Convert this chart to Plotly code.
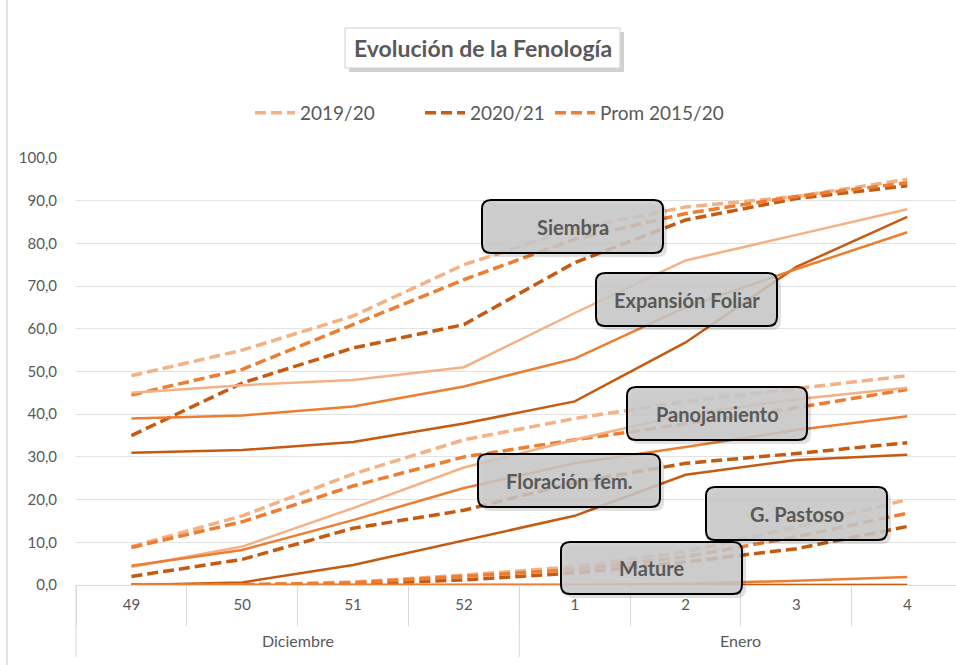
import plotly.graph_objects as go

# ---------------- data ----------------
weeks = ["49", "50", "51", "52", "1", "2", "3", "4"]
months = ["Diciembre", "Enero"]
weeks_per_month = [4, 4]

series_names = ["2019/20", "2020/21", "Prom 2015/20"]

siembra_1920 = [49.0, 55.0, 63.0, 75.0, 83.5, 88.5, 91.0, 95.0]
siembra_2021 = [35.0, 47.3, 55.5, 61.0, 75.5, 85.5, 90.5, 93.5]
siembra_prom = [44.5, 50.5, 61.0, 71.5, 81.0, 87.0, 91.0, 94.2]

expansion_1920 = [45.0, 46.8, 48.0, 51.0, 63.7, 76.0, 82.0, 88.0]
expansion_2021 = [31.0, 31.6, 33.5, 37.8, 43.0, 56.8, 74.5, 86.2]
expansion_prom = [39.0, 39.7, 41.8, 46.5, 53.0, 65.0, 74.0, 82.6]

panoj_1920 = [9.0, 16.2, 26.0, 34.0, 39.0, 43.0, 46.0, 49.0]
panoj_2021 = [2.0, 6.0, 13.3, 17.5, 24.0, 28.5, 30.8, 33.3]
panoj_prom = [8.8, 14.8, 23.2, 30.0, 34.0, 37.8, 41.5, 45.8]

floracion_1920 = [4.2, 9.0, 18.0, 27.5, 34.0, 40.0, 43.5, 46.2]
floracion_2021 = [0.0, 0.6, 4.7, 10.5, 16.2, 25.8, 29.3, 30.5]
floracion_prom = [4.5, 8.2, 15.2, 22.7, 28.5, 32.3, 36.3, 39.5]

pastoso_1920 = [0.0, 0.0, 0.7, 2.3, 4.3, 7.8, 13.6, 20.0]
pastoso_2021 = [0.0, 0.0, 0.2, 1.2, 2.8, 5.4, 8.5, 13.7]
pastoso_prom = [0.0, 0.0, 0.5, 2.0, 3.6, 6.6, 11.3, 16.8]

mature_1920 = [0.0, 0.0, 0.0, 0.0, 0.0, 0.0, 0.0, 0.0]
mature_2021 = [0.0, 0.0, 0.0, 0.0, 0.0, 0.0, 0.0, 0.0]
mature_prom = [0.0, 0.0, 0.0, 0.0, 0.0, 0.3, 1.0, 1.9]

stage_labels = ["Siembra", "Expansión Foliar", "Panojamiento",
                "Floración fem.", "G. Pastoso", "Mature"]
y_ticks = [0, 10, 20, 30, 40, 50, 60, 70, 80, 90, 100]

# ---------------- styles ----------------
C_LIGHT = "#F4B183"
C_DARK = "#C55A11"
C_MED = "#ED7D31"
TXT = "#595959"
FONT = "Lato, 'Open Sans', sans-serif"

W, H = 956, 665
ML, MR, MT, MB = 76, 0, 158, 80
PW, PH = W - ML - MR, H - MT - MB
XR = [-0.5, 7.44]

def px(xp):
    return (xp - ML) / PW

def py(yp):
    return (H - MB - yp) / PH

def cat_to_paper(c):
    return (c - XR[0]) / (XR[1] - XR[0])

stages = [
    (siembra_1920, siembra_2021, siembra_prom, True),
    (expansion_1920, expansion_2021, expansion_prom, False),
    (panoj_1920, panoj_2021, panoj_prom, True),
    (floracion_1920, floracion_2021, floracion_prom, False),
    (pastoso_1920, pastoso_2021, pastoso_prom, True),
    (mature_1920, mature_2021, mature_prom, False),
]

legend_ids = ["legend", "legend2", "legend3"]
legend_x_px = [250, 420, 550]

fig = go.Figure()
for si, (a, b, c, dashed) in enumerate(stages):
    for k, (name, vals, col) in enumerate(zip(series_names, (a, b, c),
                                               (C_LIGHT, C_DARK, C_MED))):
        fig.add_trace(go.Scatter(
            x=weeks, y=vals, mode="lines", name=name,
            showlegend=(si == 0), legend=legend_ids[k],
            line=dict(color=col, width=3.5 if dashed else 2.5,
                      dash="11px,5px" if dashed else "solid"),
            hoverinfo="y+name",
        ))

shapes = []
annotations = []

# ---------------- month labels + dividers ----------------
start = 0
bounds = [0]
for m, n in zip(months, weeks_per_month):
    center = start + (n - 1) / 2
    annotations.append(dict(xref="paper", yref="paper",
                            x=cat_to_paper(center), y=py(640),
                            text=m, showarrow=False,
                            xanchor="center", yanchor="middle",
                            font=dict(family=FONT, size=16, color=TXT)))
    start += n
    bounds.append(start)
for bnd in bounds:
    xb = cat_to_paper(bnd - 0.5)
    shapes.append(dict(type="line", xref="paper", yref="paper",
                       x0=xb, x1=xb, y0=py(585), y1=py(657),
                       line=dict(color="#D9D9D9", width=1)))

# ---------------- label boxes ----------------
def rounded_rect(x0, y0, x1, y1, r):
    X0, X1 = px(x0), px(x1)
    Y0, Y1 = py(y0), py(y1)
    rx, ry = r / PW, r / PH
    return (f"M {X0+rx},{Y0} L {X1-rx},{Y0} Q {X1},{Y0} {X1},{Y0-ry} "
            f"L {X1},{Y1+ry} Q {X1},{Y1} {X1-rx},{Y1} L {X0+rx},{Y1} "
            f"Q {X0},{Y1} {X0},{Y1+ry} L {X0},{Y0-ry} Q {X0},{Y0} {X0+rx},{Y0} Z")

boxes = [
    (482, 200, 663, 253),
    (596, 273, 777, 326),
    (627, 387, 807, 440),
    (478, 454, 660, 507),
    (706, 487, 887, 540),
    (561, 542, 742, 594),
]
for label, (x0, y0, x1, y1) in zip(stage_labels, boxes):
    shapes.append(dict(type="path", xref="paper", yref="paper", layer="above",
                       path=rounded_rect(x0 + 4, y0 + 4, x1 + 4, y1 + 4, 9),
                       fillcolor="rgba(0,0,0,0.12)", line=dict(width=0)))
    shapes.append(dict(type="path", xref="paper", yref="paper", layer="above",
                       path=rounded_rect(x0, y0, x1, y1, 9),
                       fillcolor="rgba(200,200,200,0.86)",
                       line=dict(color="#000000", width=2)))
    annotations.append(dict(xref="paper", yref="paper",
                            x=px((x0 + x1) / 2), y=py((y0 + y1) / 2),
                            text=f"<b>{label}</b>", showarrow=False,
                            xanchor="center", yanchor="middle",
                            font=dict(family=FONT, size=20, color=TXT)))

# ---------------- title box ----------------
shapes.append(dict(type="rect", xref="paper", yref="paper", layer="above",
                   x0=px(349), x1=px(624), y0=py(32), y1=py(72),
                   fillcolor="rgba(0,0,0,0.18)", line=dict(width=0)))
shapes.append(dict(type="rect", xref="paper", yref="paper", layer="above",
                   x0=px(345), x1=px(620), y0=py(28), y1=py(68),
                   fillcolor="#FFFFFF", line=dict(color="#D0D0D0", width=1)))
annotations.append(dict(xref="paper", yref="paper", x=px(482.5), y=py(48),
                        text="<b>Evolución de la Fenología</b>", showarrow=False,
                        xanchor="center", yanchor="middle",
                        font=dict(family=FONT, size=23, color=TXT)))

# ---------------- chart border ----------------
shapes.append(dict(type="line", xref="paper", yref="paper",
                   x0=px(7), x1=px(7), y0=py(0), y1=py(665),
                   line=dict(color="#D9D9D9", width=1.5)))

legend_style = dict(orientation="h", yanchor="middle", xanchor="left",
                    y=py(113), font=dict(family=FONT, size=19, color=TXT),
                    itemwidth=40, bgcolor="rgba(0,0,0,0)")

fig.update_layout(
    width=W, height=H,
    margin=dict(l=ML, r=MR, t=MT, b=MB, autoexpand=False),
    paper_bgcolor="#FFFFFF", plot_bgcolor="#FFFFFF",
    separators=",.",
    font=dict(family=FONT, color=TXT, size=14),
    showlegend=True,
    legend=dict(x=px(legend_x_px[0]), **legend_style),
    legend2=dict(x=px(legend_x_px[1]), **legend_style),
    legend3=dict(x=px(legend_x_px[2]), **legend_style),
    shapes=shapes,
    annotations=annotations,
    hovermode="closest",
)

fig.update_xaxes(
    type="category",
    range=XR,
    showgrid=False,
    showline=True, linecolor="#D9D9D9", linewidth=1,
    ticks="outside", tickson="boundaries", ticklen=40, tickcolor="#D9D9D9",
    tickfont=dict(family=FONT, size=15, color=TXT),
    ticklabelstandoff=6,
    zeroline=False,
)
fig.update_yaxes(
    range=[0, 100],
    tickvals=y_ticks,
    tickformat=".1f",
    showgrid=True, gridcolor="#E3E3E3", gridwidth=1,
    showline=False, zeroline=False,
    ticks="", ticklabelstandoff=18,
    tickfont=dict(family=FONT, size=15, color=TXT),
)

fig.write_html("out.html", config={"displayModeBar": False},
               post_script="document.body.style.margin='0px';")
